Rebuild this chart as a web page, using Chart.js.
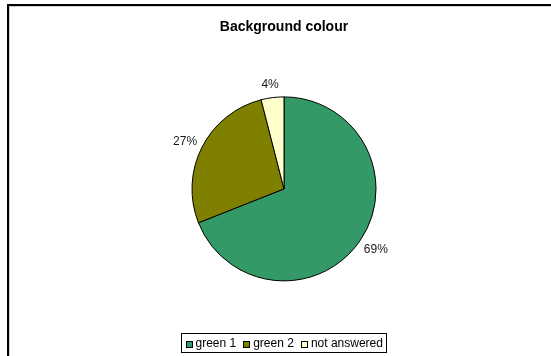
<!DOCTYPE html>
<html>
<head>
<meta charset="utf-8">
<script src="https://cdn.jsdelivr.net/npm/chart.js@4.4.0/dist/chart.umd.min.js"></script>
<style>
    html, body { margin: 0; padding: 0; background: #fff; }
    #wrap { width: 551px; height: 356px; }
</style>
</head>
<body>
<div id="wrap"><canvas id="pieChart" width="551" height="356"></canvas></div>
<script>
const chartTitle = 'Background colour';
const categories = ['green 1', 'green 2', 'not answered'];
const shares = [69, 27, 4];
const sliceColours = ['#339966', '#808000', '#FFFFCC'];

const FONT = '"Liberation Sans", Arial, sans-serif';

// black frame along the top and left edges
const framePlugin = {
    id: 'frame',
    beforeDraw(chart) {
        const ctx = chart.ctx;
        ctx.save();
        ctx.fillStyle = '#fff';
        ctx.fillRect(0, 0, chart.width, chart.height);
        ctx.fillStyle = '#d0d0d0';
        ctx.fillRect(9, 6, 1, chart.height - 6);
        ctx.fillRect(9, 6, chart.width - 9, 1);
        ctx.fillStyle = '#000';
        ctx.fillRect(7, 4, 2, chart.height - 4);
        ctx.fillRect(7, 4, chart.width - 7, 2);
        ctx.restore();
    }
};

// percentage labels just outside each slice (a bit wider sideways, like label boxes)
const sliceLabels = {
    id: 'sliceLabels',
    afterDatasetsDraw(chart) {
        const ctx = chart.ctx;
        const meta = chart.getDatasetMeta(0);
        ctx.save();
        ctx.font = '12px ' + FONT;
        ctx.fillStyle = '#1a1a1a';
        ctx.textAlign = 'center';
        ctx.textBaseline = 'middle';
        meta.data.forEach((arc, i) => {
            const p = arc.getProps(['x', 'y', 'startAngle', 'endAngle', 'outerRadius'], true);
            const mid = (p.startAngle + p.endAngle) / 2;
            const r = p.outerRadius + 14;
            const lx = p.x + Math.cos(mid) * (r + 5);
            const ly = p.y + Math.sin(mid) * r + 1;
            ctx.fillText(shares[i] + '%', lx, ly);
        });
        ctx.restore();
    }
};

// boxed legend under the pie
const boxedLegend = {
    id: 'boxedLegend',
    afterDraw(chart) {
        const ctx = chart.ctx;
        const sq = 6, gapText = 4, gapItem = 7, pad = 4;
        ctx.save();
        ctx.font = '12px ' + FONT;
        const widths = categories.map(c => ctx.measureText(c).width);
        let total = pad * 2;
        widths.forEach((w, i) => { total += sq + gapText + w + (i < widths.length - 1 ? gapItem : 0); });
        const cx = (chart.chartArea.left + chart.chartArea.right) / 2;
        const left = Math.round(cx - total / 2), top = 333, h = 19;
        ctx.strokeStyle = '#000';
        ctx.lineWidth = 1;
        ctx.strokeRect(left + 0.5, top + 0.5, Math.round(total), h);
        let x = left + pad + 0.5;
        const mid = top + h / 2 + 1;
        ctx.textBaseline = 'middle';
        categories.forEach((c, i) => {
            ctx.fillStyle = sliceColours[i];
            ctx.fillRect(Math.round(x), Math.round(mid - sq / 2), sq, sq);
            ctx.strokeRect(Math.round(x) + 0.5, Math.round(mid - sq / 2) + 0.5, sq, sq);
            ctx.fillStyle = '#000';
            ctx.fillText(c, x + sq + gapText, mid);
            x += sq + gapText + widths[i] + gapItem;
        });
        ctx.restore();
    }
};

new Chart(document.getElementById('pieChart').getContext('2d'), {
    type: 'pie',
    data: {
        labels: categories,
        datasets: [{
            data: shares,
            backgroundColor: sliceColours,
            borderColor: '#000',
            borderWidth: 1,
            radius: 92
        }]
    },
    options: {
        responsive: false,
        animation: false,
        layout: { padding: { left: 17, right: 0, top: 0, bottom: 22 } },
        plugins: {
            legend: { display: false },
            tooltip: { enabled: false },
            title: {
                display: true,
                text: chartTitle,
                color: '#000',
                font: { family: FONT, size: 14, weight: 'bold', lineHeight: 1.2 },
                padding: { top: 19, bottom: 8 }
            }
        }
    },
    plugins: [framePlugin, sliceLabels, boxedLegend]
});
</script>
</body>
</html>
